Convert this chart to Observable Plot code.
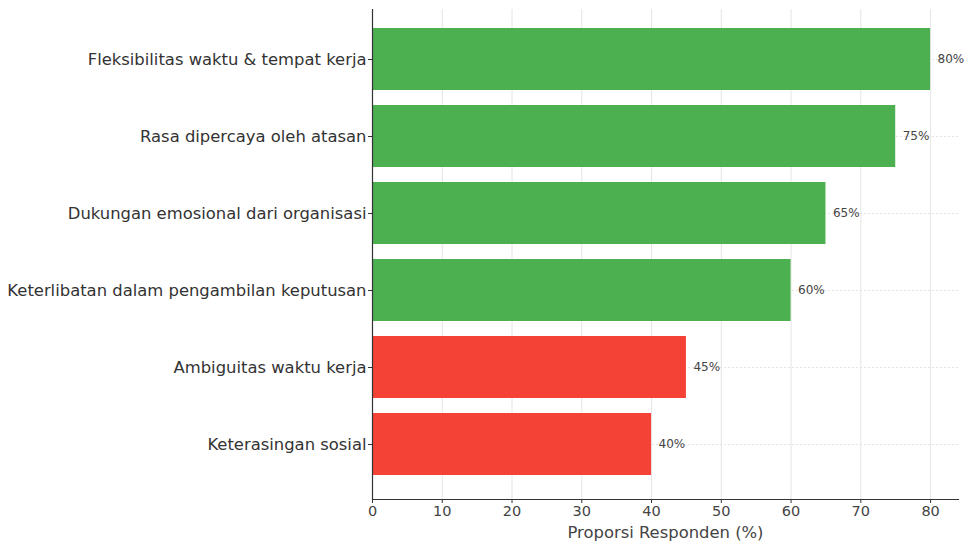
<!DOCTYPE html>
<html>
<head>
<meta charset="utf-8">
<script src="https://cdn.jsdelivr.net/npm/d3@7"></script>
<script src="https://cdn.jsdelivr.net/npm/@observablehq/plot@0.6"></script>
<style>
  html, body { margin: 0; padding: 0; background: #fff; }
  #chart svg { display: block; }
</style>
</head>
<body>
<div id="chart"></div>
<script>
const categories = [
  "Fleksibilitas waktu & tempat kerja",
  "Rasa dipercaya oleh atasan",
  "Dukungan emosional dari organisasi",
  "Keterlibatan dalam pengambilan keputusan",
  "Ambiguitas waktu kerja",
  "Keterasingan sosial"
];
const values = [80, 75, 65, 60, 45, 40];
const groups = ["positif", "positif", "positif", "positif", "negatif", "negatif"];
const groupColors = { positif: "#4caf50", negatif: "#f44336" };
const xTicks = [0, 10, 20, 30, 40, 50, 60, 70, 80];
const xLabel = "Proporsi Responden (%)";

const data = categories.map((c, i) => ({ category: c, value: values[i], group: groups[i] }));

const chart = Plot.plot({
  width: 964,
  height: 542,
  marginLeft: 372,
  marginRight: 6,
  marginTop: 9,
  marginBottom: 43,
  style: { fontFamily: "DejaVu Sans, sans-serif", fontSize: "13px", color: "#333", background: "#fff" },
  x: { domain: [0, 84], ticks: xTicks, label: null },
  y: { domain: categories, paddingInner: 0.2, paddingOuter: 0.281, align: 0.446, label: null },
  color: { domain: Object.keys(groupColors), range: Object.values(groupColors) },
  marks: [
    Plot.gridX(xTicks, { stroke: "#ddd", strokeOpacity: 1, strokeWidth: 0.8 }),
    Plot.gridY(categories, { stroke: "#ddd", strokeOpacity: 1, strokeWidth: 0.8, strokeDasharray: "2,2" }),
    Plot.barX(data, { y: "category", x: "value", fill: "group" }),
    Plot.text(data, {
      y: "category", x: "value", text: d => `${d.value}%`,
      dx: 7, textAnchor: "start", fontSize: 12, fill: "#444"
    }),
    Plot.axisX(xTicks, { tickSize: 4, tickPadding: 2, fontSize: 14.5, stroke: "#333", fill: "#444", label: null }),
    Plot.axisY(categories, { tickSize: 4, tickPadding: 2, fontSize: 16.4, stroke: "#333", fill: "#333", label: null }),
    Plot.text([xLabel], {
      frameAnchor: "bottom", dy: 38, text: d => d, fontSize: 16.4, fill: "#444"
    }),
    Plot.ruleX([0], { stroke: "#333", strokeWidth: 1.2 }),
    Plot.frame({ anchor: "bottom", stroke: "#333", strokeWidth: 1.2 })
  ]
});
document.getElementById("chart").appendChild(chart);
</script>
</body>
</html>
